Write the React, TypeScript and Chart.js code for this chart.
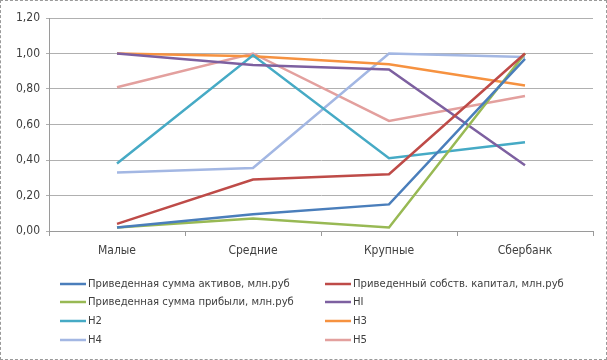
import React, { useEffect, useRef } from "react";
import { Chart, registerables } from "chart.js";

Chart.register(...registerables);

const categories = ["Малые", "Средние", "Крупные", "Сбербанк"];
const seriesNames = [
  "Приведенная сумма активов, млн.руб",
  "Приведенный собств. капитал, млн.руб",
  "Приведенная сумма прибыли, млн.руб",
  "HI",
  "H2",
  "H3",
  "H4",
  "H5",
];
const assets = [0.02, 0.095, 0.15, 0.97];
const capital = [0.04, 0.29, 0.32, 1.0];
const profit = [0.02, 0.07, 0.02, 1.0];
const h1 = [1.0, 0.935, 0.91, 0.37];
const h2 = [0.38, 0.99, 0.41, 0.5];
const h3 = [1.0, 0.985, 0.94, 0.82];
const h4 = [0.33, 0.355, 1.0, 0.98];
const h5 = [0.81, 1.0, 0.62, 0.76];
const seriesValues = [assets, capital, profit, h1, h2, h3, h4, h5];
const colors = ["#4A7EBB", "#BE4B48", "#98B954", "#7D60A0", "#46AAC5", "#F69240", "#A3B7E3", "#E3A09E"];
const yTicks = [0, 0.2, 0.4, 0.6, 0.8, 1.0, 1.2];

const FONT = "'Liberation Sans Narrow', 'DejaVu Sans Condensed', sans-serif";

const legendPlugin = {
  id: "twoColLegend",
  afterDraw(chart: any) {
    const ctx = chart.ctx;
    ctx.save();
    ctx.font = `11.2px ${FONT}`;
    ctx.fillStyle = "#404040";
    ctx.textBaseline = "middle";
    const colX = [60, 325];
    const rowY = [284, 302, 321, 340];
    chart.data.datasets.forEach((ds: any, i: number) => {
      const x = colX[i % 2];
      const y = rowY[Math.floor(i / 2)];
      ctx.strokeStyle = ds.borderColor;
      ctx.lineWidth = 2.5;
      ctx.beginPath();
      ctx.moveTo(x, y);
      ctx.lineTo(x + 26, y);
      ctx.stroke();
      ctx.fillText(ds.label, x + 28, y);
    });
    ctx.restore();
  },
};

export default function App() {
  const ref = useRef<HTMLCanvasElement>(null);
  useEffect(() => {
    const chart = new Chart(ref.current!, {
      type: "line",
      data: {
        labels: categories,
        datasets: seriesValues.map((v, i) => ({
          label: seriesNames[i],
          data: v,
          borderColor: colors[i],
          backgroundColor: colors[i],
          borderWidth: 2.5,
          pointRadius: 0,
          tension: 0,
        })),
      },
      options: {
        animation: false,
        responsive: false,
        layout: { padding: { left: 0, right: 14, top: 18, bottom: 100 } },
        plugins: { legend: { display: false }, tooltip: { enabled: false } },
        scales: {
          x: {
            offset: true,
            grid: {
              offset: true,
              drawOnChartArea: false,
              drawTicks: true,
              tickLength: 5,
              color: "#9a9a9a",
            },
            border: { color: "#9a9a9a" },
            ticks: { color: "#404040", font: { family: FONT, size: 12 }, padding: 8 },
            afterFit: (s: any) => { s.height = 29; },
          },
          y: {
            min: 0,
            max: 1.2,
            afterBuildTicks: (s: any) => { s.ticks = yTicks.map((v) => ({ value: v })); },
            grid: { color: "#b0b0b0", drawTicks: true, tickLength: 3 },
            border: { color: "#9a9a9a" },
            ticks: {
              color: "#404040",
              font: { family: FONT, size: 12 },
              padding: 6,
              callback: (v: any) => Number(v).toFixed(2).replace(".", ","),
            },
            afterFit: (s: any) => { s.width = 49; },
          },
        },
      },
      plugins: [legendPlugin],
    });
    return () => chart.destroy();
  }, []);
  return (
    <div style={{ position: "fixed", left: 0, top: 0, width: 607, height: 360, boxSizing: "border-box", border: "1px dashed #9a9a9a", background: "#fff" }}>
      <canvas ref={ref} width={607} height={360} style={{ position: "absolute", left: -1, top: -1 }} />
    </div>
  );
}
